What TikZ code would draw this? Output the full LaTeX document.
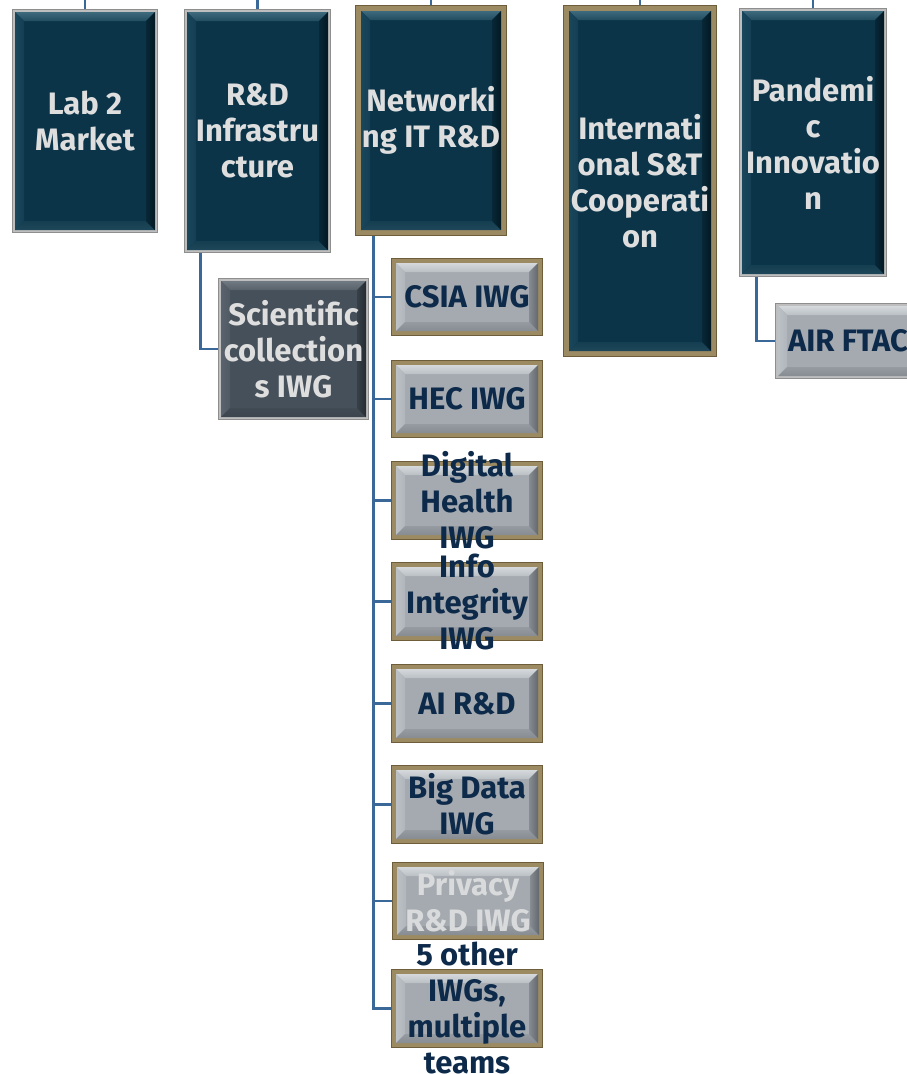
\documentclass[tikz,border=0pt]{standalone}
\usepackage{fontspec}
\setmainfont{Fira Sans}
\definecolor{connc}{HTML}{3A6898}
\definecolor{dkF}{HTML}{0B3449}\definecolor{dkT}{HTML}{3E6A7D}\definecolor{dkL}{HTML}{1B475C}\definecolor{dkB}{HTML}{1E4859}\definecolor{dkR}{HTML}{041822}
\definecolor{gyF}{HTML}{A4AAB0}\definecolor{gyT}{HTML}{D5D9DC}\definecolor{gyL}{HTML}{BCC1C6}\definecolor{gyB}{HTML}{868C92}\definecolor{gyR}{HTML}{62686E}
\definecolor{slF}{HTML}{46505A}\definecolor{slT}{HTML}{707981}\definecolor{slL}{HTML}{5A636D}\definecolor{slB}{HTML}{3C454E}\definecolor{slR}{HTML}{252B31}
\definecolor{gdO}{HTML}{6E5D3B}\definecolor{gdI}{HTML}{9C8A63}
\definecolor{grO}{HTML}{8E8E8E}\definecolor{grI}{HTML}{BEBEBE}
\definecolor{ltx}{HTML}{DEDEDE}\definecolor{nvx}{HTML}{0D2A4A}\definecolor{pvx}{HTML}{D9DADB}
\tikzset{
  conn/.style={draw=connc, line width=2.8pt},
  boxtext/.style={inner sep=0pt, align=center, font=\fontsize{31}{36}\selectfont\bfseries},
  lighttext/.style={boxtext, text=ltx},
  navytext/.style={boxtext, text=nvx},
  privtext/.style={boxtext, text=pvx},
}
% #1 name, #2 x1, #3 y1, #4 x2, #5 y2, #6 border prefix, #7 border width, #8 palette prefix
\newcommand{\bvbox}[8]{%
  \pgfmathsetmacro{\bvAx}{#2+#7}\pgfmathsetmacro{\bvAy}{#3+#7}%
  \pgfmathsetmacro{\bvBx}{#4-#7}\pgfmathsetmacro{\bvBy}{#5-#7}%
  \pgfmathsetmacro{\bvCx}{\bvAx+9}\pgfmathsetmacro{\bvCy}{\bvAy+9}%
  \pgfmathsetmacro{\bvDx}{\bvBx-9}\pgfmathsetmacro{\bvDy}{\bvBy-9}%
  \pgfmathsetmacro{\bvW}{#4-#2}\pgfmathsetmacro{\bvH}{#5-#3}%
  \fill[#6O] (#2,#3) rectangle (#4,#5);
  \fill[#6I] ({#2+1},{#3+1}) rectangle ({#4-1.5},{#5-1.5});
  \fill[#8F] (\bvAx,\bvAy) rectangle (\bvBx,\bvBy);
  \shade[top color=#8T, bottom color=#8T!45!#8F] (\bvAx,\bvAy) -- (\bvBx,\bvAy) -- (\bvDx,\bvCy) -- (\bvCx,\bvCy) -- cycle;
  \shade[left color=#8L, right color=#8L!50!#8F] (\bvAx,\bvAy) -- (\bvCx,\bvCy) -- (\bvCx,\bvDy) -- (\bvAx,\bvBy) -- cycle;
  \shade[top color=#8B!50!#8F, bottom color=#8B] (\bvAx,\bvBy) -- (\bvCx,\bvDy) -- (\bvDx,\bvDy) -- (\bvBx,\bvBy) -- cycle;
  \shade[left color=#8R!45!#8F, right color=#8R] (\bvBx,\bvAy) -- (\bvBx,\bvBy) -- (\bvDx,\bvDy) -- (\bvDx,\bvCy) -- cycle;
  \node[inner sep=0pt, minimum width=\bvW pt, minimum height=\bvH pt] (#1) at ({(#2+#4)/2},{(#3+#5)/2}) {};
}
\begin{document}
\begin{tikzpicture}[x=1pt, y=-1pt]
\useasboundingbox[fill=white] (0,0) rectangle (907,1074);
% top-level boxes
\bvbox{lab}{12}{9}{158}{233}{gr}{3}{dk}
\bvbox{rdi}{184}{9}{331}{253}{gr}{3}{dk}
\bvbox{net}{355}{5}{507}{236}{gd}{6}{dk}
\bvbox{intl}{563}{5}{717}{357}{gd}{6}{dk}
\bvbox{pand}{739}{8}{887}{277}{gr}{3}{dk}
% second level
\bvbox{sci}{218}{278}{369}{420}{gr}{3}{sl}
\bvbox{air}{775}{303}{921}{379}{gr}{3}{gy}
\bvbox{csia}{391}{258}{543}{336}{gd}{5}{gy}
\bvbox{hec}{391}{360}{543}{438}{gd}{5}{gy}
\bvbox{dh}{391}{461}{543}{540}{gd}{5}{gy}
\bvbox{ii}{391}{562}{543}{641}{gd}{5}{gy}
\bvbox{ai}{391}{664}{543}{743}{gd}{5}{gy}
\bvbox{bd}{391}{765}{543}{844}{gd}{5}{gy}
\bvbox{priv}{392}{862}{544}{940}{gd}{5}{gy}
\bvbox{oth}{391}{969}{543}{1048}{gd}{5}{gy}
% texts
\node[lighttext] (labT) at (lab) {Lab 2\\Market};
\node[lighttext] (rdiT) at (rdi) {R\&D\\Infrastru\\cture};
\node[lighttext] (netT) at (net) {Networki\\ng IT R\&D};
\node[lighttext] (intlT) at (intl) {Internati\\onal S\&T\\Cooperati\\on};
\node[lighttext] (pandT) at (pand) {Pandemi\\c\\Innovatio\\n};
\node[lighttext] (sciT) at (sci) {Scientific\\collection\\s IWG};
\node[navytext] (airT) at (air) {AIR FTAC};
\node[navytext] (csiaT) at (csia) {CSIA IWG};
\node[navytext] (hecT) at (hec) {HEC IWG};
\node[navytext] (dhT) at (dh) {Digital\\Health\\IWG};
\node[navytext] (iiT) at (ii) {Info\\Integrity\\IWG};
\node[navytext] (aiT) at (ai) {AI R\&D};
\node[navytext] (bdT) at (bd) {Big Data\\IWG};
\node[privtext] (privT) at (priv) {Privacy\\R\&D IWG};
\node[navytext] (othT) at (oth) {5 other\\IWGs,\\multiple\\teams};
% connectors
\coordinate (t1) at (85,0);
\coordinate (t2) at (257.5,0);
\coordinate (t3) at (431,0);
\coordinate (t4) at (640,0);
\coordinate (t5) at (813,0);
\draw[conn] (t1) -- (lab.north);
\draw[conn] (t2) -- (rdi.north);
\draw[conn] (t3) -- (net.north);
\draw[conn] (t4) -- (intl.north);
\draw[conn] (t5) -- (pand.north);
\draw[conn] ([xshift=17pt]rdi.south west) |- (sci.west);
\draw[conn] ([xshift=18pt]pand.south west) |- (air.west);
\foreach \c in {csia,hec,dh,ii,ai,bd,priv,oth}
  \draw[conn] ([xshift=19pt]net.south west) |- (\c.west);
\end{tikzpicture}
\end{document}
